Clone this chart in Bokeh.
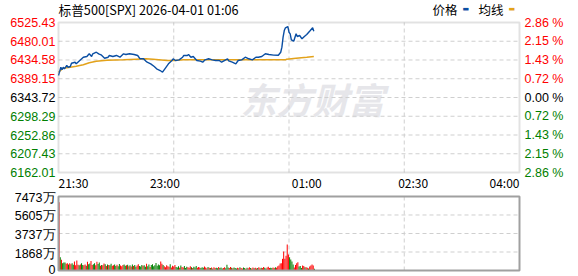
import numpy as np
from bokeh.plotting import figure
from bokeh.models import Range1d, Label, ColumnDataSource, BoxAnnotation
from bokeh.core.properties import value
from bokeh.embed import file_html
from bokeh.resources import INLINE

# ---------------- data ----------------
title_text = "标普500[SPX] 2026-04-01 01:06"
legend_names = ["价格", "均线"]

price_ticks = [6525.43, 6480.01, 6434.58, 6389.15, 6343.72, 6298.29, 6252.86, 6207.43, 6162.01]
pct_labels = ["2.86 %", "2.15 %", "1.43 %", "0.72 %", "0.00 %", "0.72 %", "1.43 %", "2.15 %", "2.86 %"]
tick_side = [1, 1, 1, 1, 0, -1, -1, -1, -1]   # above / at / below previous close

x_tick_min = [0, 90, 210, 300, 390]            # minutes after 21:30
x_tick_lab = ["21:30", "23:00", "01:00", "02:30", "04:00"]

vol_ticks = [0, 1868, 3737, 5605, 7473]
vol_labels = ["0", "1868万", "3737万", "5605万", "7473万"]

price_min = [0, 2, 3, 4, 5, 7, 8, 10, 11, 14, 15, 18, 21, 24, 26, 28, 29, 32, 34, 36,
             39, 42, 43, 46, 49, 52, 55, 57, 60, 64, 67, 69, 72, 74, 75, 78, 81, 83, 86, 88,
             90, 93, 96, 97, 99, 102, 105, 106, 109, 110, 112, 114, 117, 120, 122, 124, 127, 130, 133, 136,
             138, 143, 144, 147, 150, 152, 155, 158, 161, 164, 167, 169, 172, 175, 178, 182, 186, 188, 189, 190,
             191, 192, 194, 195, 196, 197, 199, 201, 202, 204, 206, 208, 210, 213, 215, 216]
price_val = [6397.0, 6417.1, 6410.8, 6417.1, 6413.2, 6421.2, 6417.1, 6418.8, 6426.8, 6429.2,
             6425.3, 6433.4, 6441.3, 6443.0, 6449.6, 6443.0, 6449.6, 6453.4, 6449.6, 6447.1,
             6438.9, 6441.3, 6445.5, 6443.0, 6445.5, 6441.3, 6449.6, 6447.9, 6449.6, 6447.9,
             6445.5, 6437.5, 6437.5, 6431.7, 6429.2, 6425.3, 6418.8, 6413.2, 6409.1, 6405.0,
             6413.2, 6425.3, 6433.4, 6437.5, 6433.4, 6435.0, 6441.3, 6445.5, 6445.5, 6447.9,
             6441.3, 6443.0, 6433.4, 6431.7, 6429.2, 6435.0, 6437.5, 6435.0, 6433.4, 6433.4,
             6429.2, 6437.5, 6432.5, 6429.2, 6425.3, 6433.4, 6435.0, 6441.3, 6437.5, 6435.0,
             6441.3, 6441.3, 6443.0, 6449.6, 6447.9, 6446.5, 6446.2, 6453.4, 6465.6, 6489.8,
             6506.0, 6512.6, 6515.7, 6501.9, 6498.0, 6483.5, 6480.1, 6498.0, 6491.5, 6493.9,
             6485.9, 6491.5, 6496.3, 6506.0, 6512.6, 6504.3]

avg_min = [0, 4, 10, 15, 21, 26, 32, 41, 55, 66, 74, 80, 92, 98, 106, 146, 192, 193, 201, 210, 216]
avg_val = [6405.0, 6414.7, 6417.1, 6419.5, 6422.9, 6427.8, 6431.7, 6434.1, 6435.0, 6436.5,
           6437.5, 6436.5, 6433.4, 6433.4, 6435.0, 6435.0, 6435.0, 6436.5, 6438.9, 6441.3, 6443.0]

volume = [6900, 1350, 1080, 740, 820, 800, 670, 740, 600, 740,
          640, 740, 580, 910, 520, 1010, 580, 520, 600, 740,
          560, 520, 610, 470, 880, 640, 700, 950, 560, 620,
          720, 540, 880, 650, 810, 480, 560, 520, 700, 640,
          450, 610, 560, 530, 690, 480, 520, 610, 450, 590,
          420, 660, 500, 430, 560, 610, 470, 520, 580, 430,
          520, 400, 610, 460, 560, 380, 500, 620, 450, 410,
          560, 470, 520, 390, 680, 440, 600, 350, 560, 640,
          430, 520, 760, 480, 610, 520, 900, 680, 560, 420,
          340, 520, 440, 380, 620, 300, 470, 410, 560, 350,
          300, 420, 280, 500, 360, 310, 450, 260, 380, 330,
          290, 420, 340, 250, 380, 300, 460, 280, 350, 310,
          240, 330, 270, 400, 300, 220, 360, 280, 250, 310,
          200, 330, 260, 290, 220, 350, 240, 300, 190, 260,
          330, 220, 570, 300, 250, 350, 280, 230, 300, 260,
          200, 290, 230, 340, 260, 200, 310, 240, 180, 280,
          220, 320, 250, 190, 300, 230, 280, 200, 260, 330,
          220, 290, 240, 350, 270, 200, 300, 380, 250, 290,
          260, 300, 240, 330, 280, 420, 500, 700, 740, 1180,
          1920, 1180, 1500, 2630, 1620, 1350, 1110, 910, 610, 300,
          560, 740, 840, 400, 450, 250, 510, 450, 340, 340,
          280, 200, 400, 510, 610, 510, 170]
vol_dir = ("rgrgggrrgr" "rggrrrrgrg" "grrgrggrrg"
           "grrggrgrrg" "rgrggrrggr" "ggrrrggrgr"
           "grgrggrrgg" "grggrggrgg" "ggggggrrgr"
           "rrrrgrrrrg" "ggrgrrgggr" "rrgrgggrrr"
           "gggrrrgrgr" "grrggrgggr" "rgggrrgrgg"
           "grrgrrggrg" "rrgrrgrrgr" "rgrrggrrrg"
           "grrgrrrrrr" "rrrrrggggr" "rrrgggrrgr" "rgrrrrg")

# ---------------- layout constants (pixels) ----------------
W, H = 578, 276
FL, FR = 58, 59
FW = W - FL - FR
FT1, FH1 = 22, 150      # price panel
FT2, FH2 = 196, 74      # volume panel
T0, T1 = 0, 390
PMIN, PMAX = price_ticks[-1], price_ticks[0]
VMIN, VMAX = vol_ticks[0], vol_ticks[-1]
RED, GREEN, BLACK = "#ff0000", "#008000", "#000000"
GRIDC = "#cfcfcf"
FRAMEC = "#a0a0a0"
NUMFONT = "Liberation Sans"
CJKFONT = "Noto Sans CJK SC"

px_per_min = FW / (T1 - T0)
price_per_px = (PMAX - PMIN) / FH1
vol_per_px = (VMAX - VMIN) / FH2


def xd(px):
    return T0 + (px - FL) / px_per_min


def yd(py):
    return PMAX - (py - FT1) * price_per_px


def vd(py):
    return VMAX - (py - FT2) * vol_per_px


def side_color(s):
    return RED if s > 0 else (GREEN if s < 0 else BLACK)


p = figure(width=W, height=H, x_range=Range1d(xd(0), xd(W)), y_range=Range1d(yd(H), yd(0)),
           x_axis_location=None, y_axis_location=None, toolbar_location=None,
           output_backend="svg", min_border=0)
p.extra_y_ranges = {"vol": Range1d(vd(H), vd(0))}
p.outline_line_color = None
p.background_fill_color = "white"
p.border_fill_color = "white"
for g in p.grid:
    g.visible = False

quarters = list(np.linspace(T0, T1, 5)[1:-1])

# ---- price panel grid ----
inner = price_ticks[1:-1]
p.segment(x0=[T0] * len(inner), x1=[T1] * len(inner), y0=inner, y1=inner,
          line_color=GRIDC, line_dash="4 3", line_width=1)
p.segment(x0=quarters, x1=quarters, y0=[PMIN] * len(quarters), y1=[PMAX] * len(quarters),
          line_color=GRIDC, line_dash="4 3", line_width=1)

# watermark
p.add_layout(Label(x=xd(312), y=yd(97), text="东方财富", text_align="center",
                   text_baseline="middle", text_font=CJKFONT, text_font_size="36px",
                   text_font_style="bold italic", text_color="#e6e6ea", level="underlay"))

p.line(avg_min, avg_val, line_color="#e3a21a", line_width=1.5)
p.line(price_min, price_val, line_color="#0a4ea3", line_width=1.4)

p.add_layout(BoxAnnotation(left=T0, right=T1, bottom=PMIN, top=PMAX, fill_color=None,
                           line_color=FRAMEC, line_width=2))

for v, s, pl in zip(price_ticks, tick_side, pct_labels):
    c = side_color(s)
    p.add_layout(Label(x=xd(FL - 3), y=v, text=f"{v:.2f}", text_align="right",
                       text_baseline="middle", text_font=NUMFONT, text_font_size="12.5px",
                       text_color=c))
    p.add_layout(Label(x=xd(FL + FW + 5), y=v, text=pl, text_align="left",
                       text_baseline="middle", text_font=NUMFONT, text_font_size="12.5px",
                       text_color=c))

for i, (t, lab) in enumerate(zip(x_tick_min, x_tick_lab)):
    al = "left" if i == 0 else ("right" if i == len(x_tick_min) - 1 else "center")
    p.add_layout(Label(x=t, y=yd(FT1 + FH1 + 10), text=lab, text_align=al,
                       text_baseline="middle", text_font=CJKFONT, text_font_size="12px",
                       text_color=BLACK))

p.add_layout(Label(x=xd(FL), y=yd(9), text=title_text, text_align="left",
                   text_baseline="middle", text_font=CJKFONT, text_font_size="12.7px",
                   text_color=BLACK))
leg_cols = ["#0a4ea3", "#e3a21a"]
for (nm, col), px in zip(zip(legend_names, leg_cols), [432, 478]):
    p.add_layout(Label(x=xd(px), y=yd(9), text=nm, text_align="left",
                       text_baseline="middle", text_font=CJKFONT, text_font_size="12.5px",
                       text_color=BLACK))
    p.add_layout(Label(x=xd(px + 30), y=yd(8), text="▬", text_align="left",
                       text_baseline="middle", text_font="DejaVu Sans", text_font_size="7px",
                       text_color=col))

# ---- volume panel ----
vinner = vol_ticks[1:-1]
p.segment(x0=[T0] * len(vinner), x1=[T1] * len(vinner), y0=vinner, y1=vinner,
          line_color=GRIDC, line_dash="4 3", line_width=1, y_range_name="vol")
p.segment(x0=quarters, x1=quarters, y0=[VMIN] * len(quarters), y1=[VMAX] * len(quarters),
          line_color=GRIDC, line_dash="4 3", line_width=1, y_range_name="vol")

n = min(len(volume), len(vol_dir))
vsrc = ColumnDataSource(dict(
    m=[i + 0.5 for i in range(n)],
    v=volume[:n],
    c=[RED if d == "r" else GREEN for d in vol_dir[:n]],
))
p.vbar(x="m", top="v", width=0.85, bottom=VMIN, fill_color="c", line_color=None,
       source=vsrc, y_range_name="vol")

p.quad(left=[T0], right=[T1], bottom=[VMIN], top=[VMAX], fill_color=None,
       line_color=FRAMEC, line_width=2, y_range_name="vol")

# volume scale labels: a touch below their grid line, the floor one kept inside the canvas
vlab_y = [v + (1.5 if v == VMIN else -1.5) * vol_per_px for v in vol_ticks]
p.text(x=[xd(FL - 3)] * len(vol_ticks), y=vlab_y, text=vol_labels,
       text_align="right", text_baseline="middle", text_font=value(NUMFONT),
       text_font_size="12.5px", text_color=BLACK, y_range_name="vol")

open("out.html", "w").write(file_html(p, INLINE))
